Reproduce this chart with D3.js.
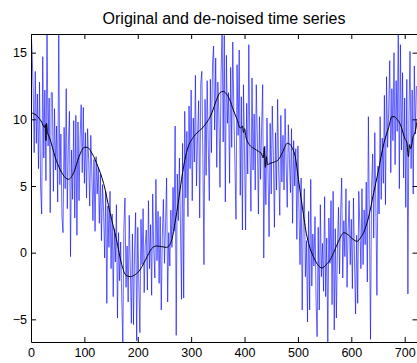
<!DOCTYPE html>
<html>
<head>
<meta charset="utf-8">
<script src="https://cdn.jsdelivr.net/npm/d3@7"></script>
<style>
  html, body { margin: 0; padding: 0; background: #fff; }
  svg { display: block; font-family: "Liberation Sans", Arial, sans-serif; }
</style>
</head>
<body>
<svg id="chart" width="417" height="363"></svg>
<script>
// ---- data ----
const titleText = "Original and de-noised time series";
const xTicks = [0, 100, 200, 300, 400, 500, 600, 700];
const yTicks = [-5, 0, 5, 10, 15];

// original (noisy) series, sampled every 2 time steps starting at 0
const noisyStep = 2;
const noisyValues = [
  16.8, 15.1, 12.4, 7.5, 13.6, 8.2, 11.9, 6.3, 12.8, 4.9,
  2.9, 14.7, 7.1, 12.2, 5.4, 16.8, 8.0, 11.6, 3.0, 12.0,
  12.0, 4.6, 10.8, 6.2, 9.5, 3.8, 16.8, 5.1, 8.9, 2.7,
  1.5, 9.4, 4.8, 12.3, 3.3, 8.1, 10.6, -0.3, 7.7, 4.0,
  9.9, 2.6, 10.3, 1.3, 9.8, 3.9, 8.6, 11.1, 6.0, 10.9,
  5.2, 9.0, 4.1, 9.3, 7.0, 3.5, 8.8, 5.9, 2.4, 7.0,
  1.6, 7.2, 4.4, 6.4, 2.2, 5.9, 0.9, 5.1, 3.1, -0.4,
  4.6, -3.8, 3.5, 0.4, 4.6, -1.2, 2.9, -3.3, 1.8, -0.7,
  3.6, -4.9, 1.5, -2.1, 0.8, -3.4, -6.9, 1.9, 4.1, -2.6,
  0.5, -3.7, 2.8, -1.1, -5.3, 1.4, -5.4, 0.2, 3.0, -6.6,
  1.9, -2.4, -6.0, 2.5, -0.9, 3.3, -3.0, 0.6, 1.7, -2.8,
  3.9, -1.2, 2.1, -3.2, 4.4, 0.2, -1.9, 5.5, -0.6, 3.1,
  -2.3, 2.7, -4.3, 1.2, 4.0, -0.8, 2.0, 5.6, -3.7, 1.5,
  -1.0, 3.2, 0.4, 4.9, 1.6, 9.5, -6.2, 5.9, 2.4, 7.1,
  1.9, -3.5, 8.2, -3.4, 10.6, 4.1, 9.1, 2.7, 11.0, 6.3,
  12.2, 3.9, 10.1, 6.8, 13.3, 5.0, 8.7, 11.4, 2.6, 12.7,
  13.6, 7.0, -0.9, 11.5, 5.8, 12.9, 8.1, 3.9, 13.0, 7.5,
  14.1, 15.5, 9.2, 14.6, 6.4, 12.8, 10.3, 4.9, 13.4, 16.8,
  8.3, 16.3, 3.8, 14.8, 9.7, 12.0, 5.2, 13.9, 7.9, 15.8,
  10.5, 6.6, 2.5, 14.1, 8.8, 15.2, 4.3, 11.7, 1.7, 12.6,
  7.4, 1.7, 11.2, 5.9, 15.6, 8.1, 3.1, 13.1, 6.2, 10.4,
  4.7, 12.6, 8.6, 2.9, 10.2, 5.5, 9.4, 12.6, -0.4, 8.0,
  3.6, 10.1, 6.0, 1.2, 9.7, 4.4, 11.0, 7.3, 1.9, 9.0,
  4.7, 11.5, 6.1, 2.8, 10.3, 5.3, 8.8, 4.7, 10.8, 6.5,
  3.4, 9.6, 7.1, 4.5, 9.3, 2.2, 8.4, 5.0, 7.8, 1.0,
  8.0, 3.0, -0.9, 5.6, -4.3, 2.4, 4.8, -1.8, 0.9, -5.2,
  3.1, -4.3, 5.5, -2.5, 1.4, -1.0, 2.7, -3.6, -6.3, 1.9,
  -4.3, 3.6, -1.8, 0.7, -2.9, 4.2, -3.3, 1.1, -6.9, 2.6,
  -0.8, 3.9, -3.9, 4.6, -5.8, 1.8, -4.9, 0.3, 3.4, -1.6,
  3.0, 5.6, -1.9, 2.4, -0.3, 4.8, -2.6, 1.6, 3.9, -0.9,
  2.5, -2.7, 4.1, -0.5, -4.6, 1.3, -3.8, 4.6, 2.0, -1.2,
  4.8, -0.9, 3.2, 0.6, 5.3, -2.2, 10.2, 1.9, -6.5, 4.9,
  7.4, 1.1, 9.0, 3.4, -3.2, 6.5, 2.9, 10.2, 4.0, 8.6,
  5.2, 11.8, 3.6, 13.2, 7.9, 10.7, 14.4, 6.0, 12.3, 8.4,
  15.0, 6.6, 12.9, 9.1, 16.8, 4.8, 15.6, 7.7, 13.5, 5.6,
  11.6, 3.4, 13.0, -3.1, 10.2, 15.1, 6.3, 12.2, 4.4, 14.0, 8.9, 12.5
];

// de-noised series (black curve), read at these time steps
const smoothX = [0, 10, 20, 25, 27, 28, 29, 31, 35, 45, 55, 65, 70, 80, 90, 100, 105, 115, 125, 136,
  148, 160, 170, 178, 186, 195, 204, 215, 226, 235, 245, 254, 260, 264, 270, 276, 282, 290, 295, 305,
  311, 320, 326, 333, 339, 347, 354, 360, 364, 372, 379, 386, 392, 396, 398, 400, 403, 406, 411, 418,
  426, 432, 435, 437, 439, 441, 443, 448, 456, 464, 472, 480, 486, 490, 495, 501, 508, 517, 523, 529,
  537, 545, 553, 561, 568, 576, 586, 592, 598, 605, 611, 617, 623, 632, 642, 650, 661, 670, 676, 680,
  686, 692, 701, 704, 707, 709, 711, 716, 720, 724];
const smoothY = [10.5, 10.3, 9.8, 9.4, 9.6, 8.4, 9.7, 9.0, 8.6, 7.2, 6.2, 5.6, 5.5, 6.0, 7.2, 7.9, 7.9, 7.4, 6.5, 5.2,
  3.0, 1.0, -0.9, -1.7, -1.8, -1.65, -1.3, -0.5, 0.3, 0.5, 0.45, 0.4, 0.6, 1.0, 2.3, 3.8, 5.5, 7.3, 8.0, 8.7,
  9.0, 9.3, 9.6, 10.0, 10.5, 11.4, 12.0, 12.1, 12.0, 11.5, 10.7, 10.0, 9.35, 9.5, 9.0, 9.3, 8.6, 8.3, 8.0, 7.8,
  7.6, 7.4, 7.1, 7.9, 6.4, 7.2, 6.6, 6.7, 6.8, 7.0, 7.6, 8.2, 8.1, 7.8, 7.2, 5.5, 3.5, 1.2, 0.3, -0.3,
  -0.9, -1.15, -0.9, -0.5, 0.1, 0.85, 1.5, 1.4, 1.2, 0.95, 0.85, 1.1, 1.5, 2.6, 4.5, 6.0, 8.2, 9.4, 10.2, 10.2,
  10.0, 9.6, 8.5, 8.3, 7.2, 8.1, 7.8, 8.7, 9.1, 10.1];

// ---- layout ----
const M = { left: 31, right: 417.5, top: 34, bottom: 342 };
const x = d3.scaleLinear().domain([0, 724]).range([M.left, M.right]);
const y = d3.scaleLinear().domain([-6.7, 16.4]).range([M.bottom, M.top]);

const svg = d3.select("#chart");

svg.append("defs").append("clipPath").attr("id", "plotclip")
  .append("rect").attr("x", M.left).attr("y", M.top)
  .attr("width", M.right - M.left).attr("height", M.bottom - M.top);

const noisy = noisyValues.map((v, i) => [i * noisyStep, v]);
const smooth = smoothX.map((t, i) => [t, smoothY[i]]);

const g = svg.append("g").attr("clip-path", "url(#plotclip)");

g.append("path")
  .datum(noisy)
  .attr("fill", "none")
  .attr("stroke", "#0000ff")
  .attr("stroke-width", 0.6)
  .attr("d", d3.line().x(d => x(d[0])).y(d => y(d[1])));

g.append("path")
  .datum(smooth)
  .attr("fill", "none")
  .attr("stroke", "#000")
  .attr("stroke-width", 1)
  .attr("d", d3.line().x(d => x(d[0])).y(d => y(d[1])).curve(d3.curveMonotoneX));

// ---- axes (MATLAB-style box with inward ticks) ----
const tickLen = 5;
const axB = svg.append("g").attr("transform", `translate(0,${M.bottom})`)
  .call(d3.axisBottom(x).tickValues(xTicks).tickSizeInner(-tickLen).tickSizeOuter(0).tickPadding(6));
const axT = svg.append("g").attr("transform", `translate(0,${M.top})`)
  .call(d3.axisTop(x).tickValues(xTicks).tickSizeInner(-tickLen).tickSizeOuter(0).tickFormat(""));
const axL = svg.append("g").attr("transform", `translate(${M.left},0)`)
  .call(d3.axisLeft(y).tickValues(yTicks).tickSizeInner(-tickLen).tickSizeOuter(0).tickPadding(4));
const axR = svg.append("g").attr("transform", `translate(${M.right},0)`)
  .call(d3.axisRight(y).tickValues(yTicks).tickSizeInner(-tickLen).tickSizeOuter(0).tickFormat(""));

[axB, axT, axL, axR].forEach(a => {
  a.select(".domain").attr("stroke", "#000").attr("stroke-width", 1);
  a.selectAll(".tick line").attr("stroke", "#000");
  a.selectAll("text").attr("fill", "#000").style("font-size", "12.5px")
    .style("font-family", '"Liberation Sans", Arial, sans-serif');
});

svg.append("text")
  .attr("x", 224).attr("y", 24)
  .attr("text-anchor", "middle")
  .style("font-size", "16px")
  .style("font-family", '"Liberation Sans", Arial, sans-serif')
  .attr("fill", "#000")
  .text(titleText);
</script>
</body>
</html>
